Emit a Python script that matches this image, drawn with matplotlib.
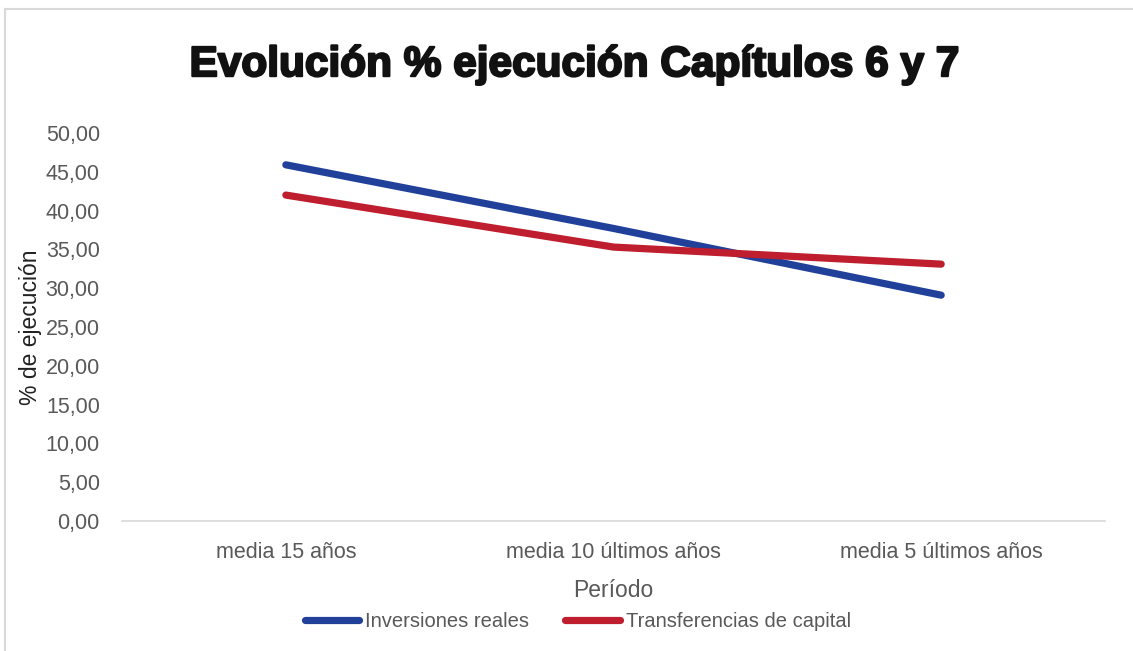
import matplotlib.pyplot as plt
import matplotlib.patheffects as pe
from matplotlib.lines import Line2D

periodos = ["media 15 años", "media 10 últimos años", "media 5 últimos años"]
inversiones_reales = [45.9, 37.7, 29.1]
transferencias_capital = [42.0, 35.3, 33.1]
yticks = [0, 5, 10, 15, 20, 25, 30, 35, 40, 45, 50]

blue = "#21409A"
red = "#BE1E2D"
grey = "#595959"
plt.rcParams['font.family'] = ['Liberation Sans', 'DejaVu Sans']

fig = plt.figure(figsize=(11.33, 6.51), dpi=100)
ax = fig.add_axes([0.1077, 0.1997, 0.8676, 0.596])

x = range(len(periodos))
ax.plot(x, inversiones_reales, color=blue, linewidth=5.2, solid_capstyle='round',
        solid_joinstyle='round', label="Inversiones reales")
ax.plot(x, transferencias_capital, color=red, linewidth=5.2, solid_capstyle='round',
        solid_joinstyle='round', label="Transferencias de capital")

ax.set_xlim(-0.5, 2.5)
ax.set_ylim(0, 50)
ax.set_yticks(yticks)
ax.set_yticklabels([f"{v:.2f}".replace(".", ",") for v in yticks])
ax.set_xticks(list(x))
ax.set_xticklabels(periodos)
ax.tick_params(axis='both', length=0, labelsize=15.5, labelcolor=grey)
ax.tick_params(axis='y', pad=16)
ax.tick_params(axis='x', pad=15)
for s in ["top", "right", "left"]:
    ax.spines[s].set_visible(False)
ax.spines["bottom"].set_color("#D9D9D9")
ax.spines["bottom"].set_linewidth(1.2)

ax.set_xlabel("Período", fontsize=16.5, color=grey, labelpad=12)
ax.set_ylabel("% de ejecución", fontsize=16.5, color="#222222")
ax.yaxis.set_label_coords(-0.081, 0.5)

fig.text(0.5075, 0.9, "Evolución % ejecución Capítulos 6 y 7", ha='center', va='center',
         fontsize=30.5, fontweight='bold', color="#111111",
         path_effects=[pe.withStroke(linewidth=1.6, foreground="#111111")])

handles = [Line2D([], [], color=blue, linewidth=5.2, solid_capstyle='round'),
           Line2D([], [], color=red, linewidth=5.2, solid_capstyle='round')]
fig.legend(handles, ["Inversiones reales", "Transferencias de capital"], loc='center',
           bbox_to_anchor=(0.51, 0.046), ncol=2, frameon=False, fontsize=14.5,
           handlelength=2.7, handletextpad=0.3, columnspacing=1.8, labelcolor=grey)

# thin gray frame on top and left like the spreadsheet chart border
fig.add_artist(Line2D([0.0045, 1.0], [0.986, 0.986], color="#D9D9D9", linewidth=1.5))
fig.add_artist(Line2D([0.0045, 0.0045], [0.0, 0.986], color="#D9D9D9", linewidth=1.5))

fig.savefig("out.png", dpi=100)
